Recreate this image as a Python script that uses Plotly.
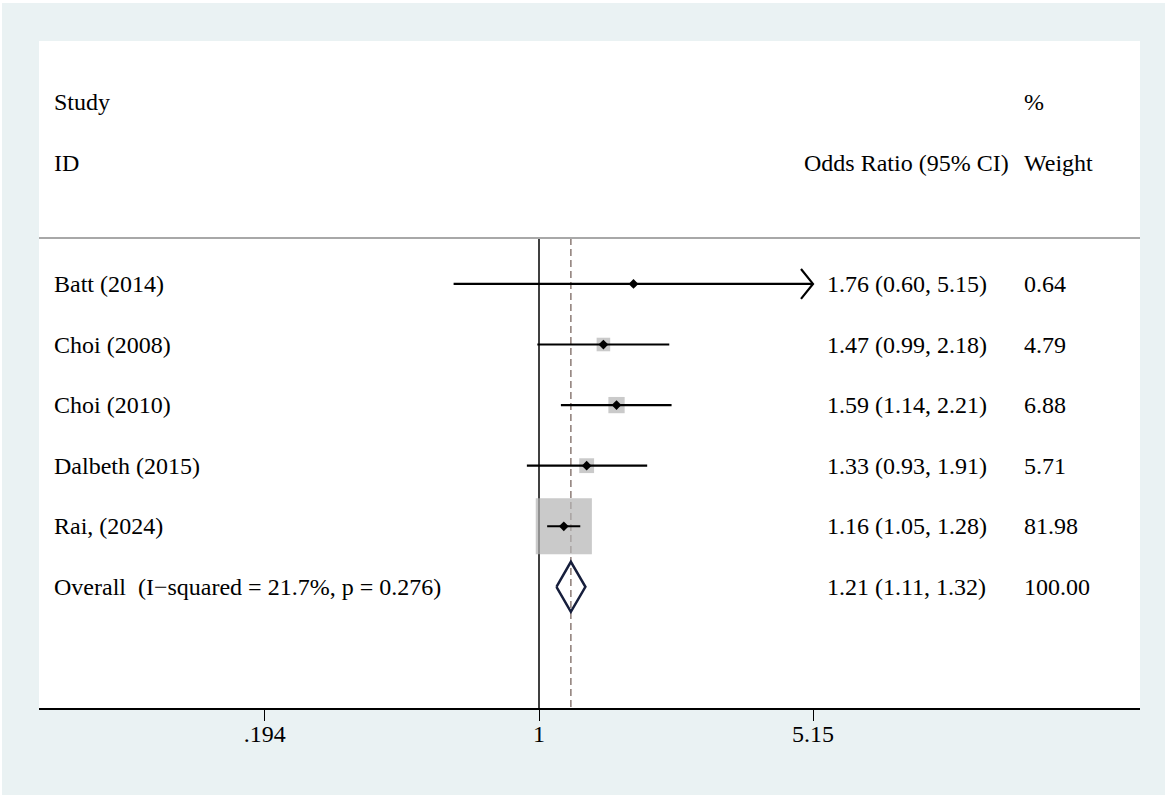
import math
import plotly.graph_objects as go

# ---------------- data ----------------
studies = ["Batt (2014)", "Choi (2008)", "Choi (2010)", "Dalbeth (2015)", "Rai, (2024)"]
odds_ratio = [1.76, 1.47, 1.59, 1.33, 1.16]
ci_low = [0.60, 0.99, 1.14, 0.93, 1.05]
ci_high = [5.15, 2.18, 2.21, 1.91, 1.28]
weights = [0.64, 4.79, 6.88, 5.71, 81.98]

overall_label = "Overall  (I\u2212squared = 21.7%, p = 0.276)"
overall_or = 1.21
overall_low = 1.11
overall_high = 1.32
overall_weight = 100.00

tick_vals = [0.194, 1, 5.15]
tick_text = [".194", "1", "5.15"]

# ---------------- layout constants ----------------
W, H = 1170, 799
L, R, T, B = 39, 30, 41, 91
plot_w = W - L - R
plot_h = H - T - B
x_zero_px = 539  # pixel of OR = 1
px_per_dec = (813 - 539) / math.log10(5.15)
x_range = [(L - x_zero_px) / px_per_dec, (W - R - x_zero_px) / px_per_dec]
row_px = 60.6
y_range = [8.0, -3.01]
sep_y = 0.24

FONT = "Liberation Serif, Times New Roman, serif"
FS = 24
BG = "#eaf2f3"
BOX = "#b4b4b4"
NAVY = "#161e3c"
DASH = "#8c7b76"


def px_x(px):
    return (px - L) / plot_w


rows = list(range(1, len(studies) + 1))
overall_row = len(studies) + 1

fig = go.Figure()

# vertical line at no effect
fig.add_trace(go.Scatter(x=[1, 1], y=[sep_y, y_range[0]], mode="lines",
                         line=dict(color="black", width=1.5), hoverinfo="skip"))
# dashed line at overall estimate
fig.add_trace(go.Scatter(x=[overall_or, overall_or], y=[sep_y, y_range[0]], mode="lines",
                         line=dict(color=DASH, width=1.5, dash="7px,4px"), hoverinfo="skip"))

# weight boxes
box_sizes = [6.2 * math.sqrt(w) for w in weights]
fig.add_trace(go.Scatter(x=odds_ratio, y=rows, mode="markers",
                         marker=dict(symbol="square", size=box_sizes, color=BOX,
                                     line=dict(width=0)), hoverinfo="skip"))

# CI lines
xmax_val = tick_vals[-1]
for r, lo, hi in zip(rows, ci_low, ci_high):
    hi_c = min(hi, xmax_val)
    fig.add_trace(go.Scatter(x=[lo, hi_c], y=[r, r], mode="lines",
                             line=dict(color="black", width=2.2), hoverinfo="skip"))
    if hi >= xmax_val:
        back = 10 ** (math.log10(hi_c) - 12 / px_per_dec)
        dy = 15 / row_px
        fig.add_trace(go.Scatter(x=[back, hi_c, back], y=[r - dy, r, r + dy], mode="lines",
                                 line=dict(color="black", width=2.2), hoverinfo="skip"))

# point estimates
fig.add_trace(go.Scatter(x=odds_ratio, y=rows, mode="markers",
                         marker=dict(symbol="diamond", size=7.5, color="black"),
                         hoverinfo="skip"))

# overall diamond
dh = 25 / row_px
fig.add_trace(go.Scatter(
    x=[overall_low, overall_or, overall_high, overall_or, overall_low],
    y=[overall_row, overall_row - dh, overall_row, overall_row + dh, overall_row],
    mode="lines", line=dict(color=NAVY, width=2.5), hoverinfo="skip"))

# ---------------- text ----------------
ann = []


def txt(s, xpx, y):
    ann.append(dict(text=s, x=px_x(xpx), y=y, xref="paper", yref="y",
                    xanchor="left", yanchor="middle", showarrow=False,
                    font=dict(family=FONT, size=FS, color="black")))


txt("Study", 52, -2)
txt("ID", 52, -1)
txt("Odds Ratio (95% CI)", 802, -1)
txt("%", 1022, -2)
txt("Weight", 1022, -1)

for r, s, o, lo, hi, w in zip(rows, studies, odds_ratio, ci_low, ci_high, weights):
    txt(s, 52, r)
    txt(f"{o:.2f} ({lo:.2f}, {hi:.2f})", 825, r)
    txt(f"{w:.2f}", 1022, r)

txt(overall_label, 52, overall_row)
txt(f"{overall_or:.2f} ({overall_low:.2f}, {overall_high:.2f})", 825, overall_row)
txt(f"{overall_weight:.2f}", 1022, overall_row)

# ---------------- shapes ----------------
shapes = [
    # header separator
    dict(type="line", xref="paper", yref="y", x0=0, x1=1, y0=sep_y, y1=sep_y,
         line=dict(color="#a8a8a8", width=2)),
]


def py(p):
    return (H - B - p) / plot_h


# thin white frame around the figure background
for x0, x1, y0, y1 in [(-10, 2, -10, H + 10), (1165, W + 10, -10, H + 10),
                       (-10, W + 10, -10, 3), (-10, W + 10, 795, H + 10)]:
    shapes.append(dict(type="rect", xref="paper", yref="paper",
                       x0=px_x(x0), x1=px_x(x1), y0=py(y1), y1=py(y0),
                       fillcolor="white", line=dict(width=0), layer="above"))

fig.update_layout(
    width=W, height=H, autosize=False,
    margin=dict(l=L, r=R, t=T, b=B, pad=0),
    paper_bgcolor=BG, plot_bgcolor="white",
    showlegend=False,
    annotations=ann, shapes=shapes,
    xaxis=dict(type="log", range=x_range, tickvals=tick_vals, ticktext=tick_text,
               showgrid=False, zeroline=False, showline=True, linecolor="black",
               linewidth=2, ticks="outside", ticklen=11, tickwidth=1, tickcolor="black",
               ticklabelstandoff=-8,
               tickfont=dict(family=FONT, size=FS, color="black"), fixedrange=True),
    yaxis=dict(range=y_range, visible=False, showgrid=False, zeroline=False,
               fixedrange=True),
)

fig.write_html("out.html", config={"displayModeBar": False},
               post_script="document.body.style.margin='0';document.body.style.overflow='hidden';")
